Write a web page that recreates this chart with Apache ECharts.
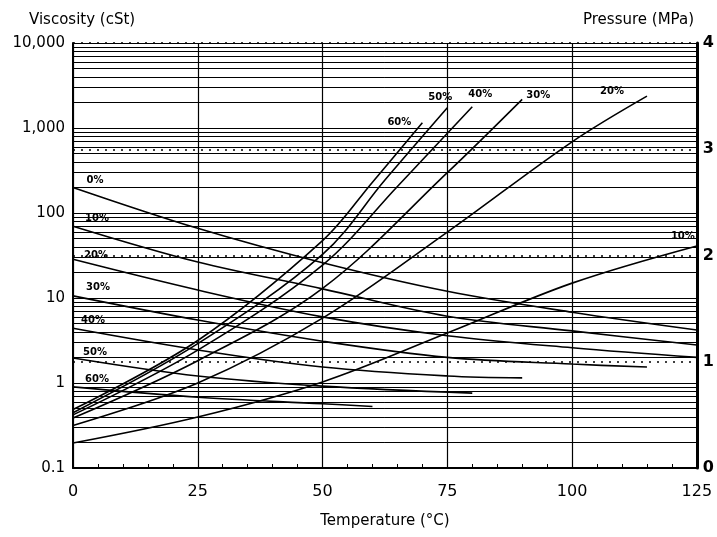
<!DOCTYPE html>
<html>
<head>
<meta charset="utf-8">
<script src="https://cdn.jsdelivr.net/npm/echarts@6.0.0/dist/echarts.min.js"></script>
<style>
  html, body { margin: 0; padding: 0; background: #fff; }
  #chart { width: 717px; height: 537px; }
</style>
</head>
<body>
<div id="chart"></div>
<script>
// viscosity curves (left axis, cSt) - temperature / value pairs
var vT0 = [0, 25, 50, 75, 100, 125];   var v0 = [200, 66, 26, 12, 6.8, 4.2];
var vT10 = [0, 25, 50, 75, 100, 125];  var v10 = [70, 26.5, 12.8, 6.1, 4.1, 2.8];
var vT20 = [0, 25, 50, 75, 100, 125];  var v20 = [28.5, 12.4, 6.0, 3.6, 2.6, 2.0];
var vT30 = [0, 25, 50, 75, 100, 115];  var v30 = [10.6, 5.5, 3.1, 2.0, 1.67, 1.54];
var vT40 = [0, 25, 50, 75, 90];        var v40 = [4.4, 2.45, 1.54, 1.21, 1.15];
var vT50 = [0, 25, 50, 80];            var v50 = [1.97, 1.21, 0.92, 0.76];
var vT60 = [0, 25, 50, 60];            var v60 = [0.9, 0.68, 0.57, 0.53];

// pressure curves (right axis, MPa)
var pT10 = [0, 25, 50, 75, 100, 125];  var p10 = [0.235, 0.48, 0.81, 1.27, 1.74, 2.09];
var pT20 = [0, 25, 50, 75, 100, 115];  var p20 = [0.40, 0.80, 1.41, 2.22, 3.07, 3.50];
var pT30 = [0, 25, 50, 75, 90];        var p30 = [0.47, 1.01, 1.69, 2.78, 3.47];
var pT40 = [0, 25, 50, 65, 80];        var p40 = [0.50, 1.11, 1.91, 2.65, 3.40];
var pT50 = [0, 25, 50, 62.5, 75];      var p50 = [0.52, 1.17, 2.01, 2.71, 3.39];
var pT60 = [0, 25, 50, 60, 70];        var p60 = [0.55, 1.20, 2.14, 2.69, 3.25];

var decades = [0.1, 1, 10, 100, 1000];
var FONT = 'DejaVu Sans, sans-serif';

// minor log grid lines 2..9 of every decade
var minorGrid = [];
decades.forEach(function (d) {
  for (var k = 2; k <= 9; k++) minorGrid.push({ yAxis: +(k * d).toPrecision(3) });
});

function curve(name, temps, vals, yIdx, labelIdx, pos) {
  var data = temps.map(function (t, i) {
    var d = { value: [t, vals[i]] };
    if (i === labelIdx) {
      d.label = {
        show: true, formatter: name, position: pos,
        align: 'center', verticalAlign: 'middle',
        fontSize: 10, fontWeight: 'bold', color: '#000', fontFamily: FONT
      };
    }
    return d;
  });
  return {
    type: 'line', name: name, yAxisIndex: yIdx, data: data,
    smooth: 0.35,
    showSymbol: true, symbol: 'circle', symbolSize: 0,
    lineStyle: { color: '#000', width: 1.6 },
    itemStyle: { color: '#000' },
    silent: true, z: 5
  };
}

var series = [
  curve('0%', vT0, v0, 0, 0, [22, -7]),
  curve('10%', vT10, v10, 0, 0, [24, -8]),
  curve('20%', vT20, v20, 0, 0, [23, -4]),
  curve('30%', vT30, v30, 0, 0, [25, -8]),
  curve('40%', vT40, v40, 0, 0, [20, -8]),
  curve('50%', vT50, v50, 0, 0, [22, -6]),
  curve('60%', vT60, v60, 0, 0, [24, -7]),
  curve('10%', pT10, p10, 1, pT10.length - 1, [-14, -10]),
  curve('20%', pT20, p20, 1, pT20.length - 1, [-35, -5]),
  curve('30%', pT30, p30, 1, pT30.length - 1, [16, -4]),
  curve('40%', pT40, p40, 1, pT40.length - 1, [8, -12]),
  curve('50%', pT50, p50, 1, pT50.length - 1, [-7, -10]),
  curve('60%', pT60, p60, 1, pT60.length - 1, [-23, 0])
];

series[0].markLine = {
  silent: true, symbol: ['none', 'none'], label: { show: false },
  lineStyle: { color: '#000', width: 1, type: 'solid' },
  emphasis: { disabled: true },
  data: minorGrid, z: 2
};

var myChart = echarts.init(document.getElementById('chart'));
var option = {
  animation: false,
  backgroundColor: '#fff',
  title: [
    { text: 'Viscosity (cSt)', left: 24, top: 8,
      textStyle: { fontSize: 15, fontWeight: 'normal', color: '#000', fontFamily: FONT } },
    { text: 'Pressure (MPa)', right: 18, top: 8,
      textStyle: { fontSize: 15, fontWeight: 'normal', color: '#000', fontFamily: FONT } }
  ],
  grid: { left: 73, right: 19, top: 43, bottom: 69 },
  xAxis: {
    type: 'value', min: 0, max: 125, interval: 25,
    name: 'Temperature (°C)', nameLocation: 'middle', nameGap: 46,
    nameTextStyle: { fontSize: 15, color: '#000', fontFamily: FONT },
    axisLine: { lineStyle: { color: '#000', width: 2 } },
    axisTick: { inside: true, length: 5, lineStyle: { color: '#000' } },
    minorTick: { show: true, splitNumber: 5, length: 4, lineStyle: { color: '#000' } },
    axisLabel: { color: '#000', fontSize: 16, margin: 16, fontFamily: FONT },
    splitLine: { show: true, lineStyle: { color: '#000', width: 1.2 } }
  },
  yAxis: [
    {
      type: 'log', logBase: 10, min: 0.1, max: 10000, position: 'left',
      axisLine: { show: true, lineStyle: { color: '#000', width: 2 } },
      axisTick: { show: false },
      axisLabel: {
        color: '#000', fontSize: 15, margin: 8, fontFamily: FONT,
        formatter: function (v) {
          if (v >= 1000) return String(Math.round(v)).replace(/\B(?=(\d{3})+(?!\d))/g, ',');
          return String(+v.toPrecision(3));
        }
      },
      splitLine: { show: true, lineStyle: { color: '#000', width: 1.2 } }
    },
    {
      type: 'value', min: 0, max: 4, interval: 1, position: 'right',
      axisLine: { show: true, lineStyle: { color: '#000', width: 3 } },
      axisTick: { show: false },
      axisLabel: { color: '#000', fontSize: 16, fontWeight: 'bold', margin: 6, fontFamily: FONT },
      splitLine: { show: true, lineStyle: { color: '#000', width: 1.5, type: [2, 6] } }
    }
  ],
  series: series
};
myChart.setOption(option);
</script>
</body>
</html>
